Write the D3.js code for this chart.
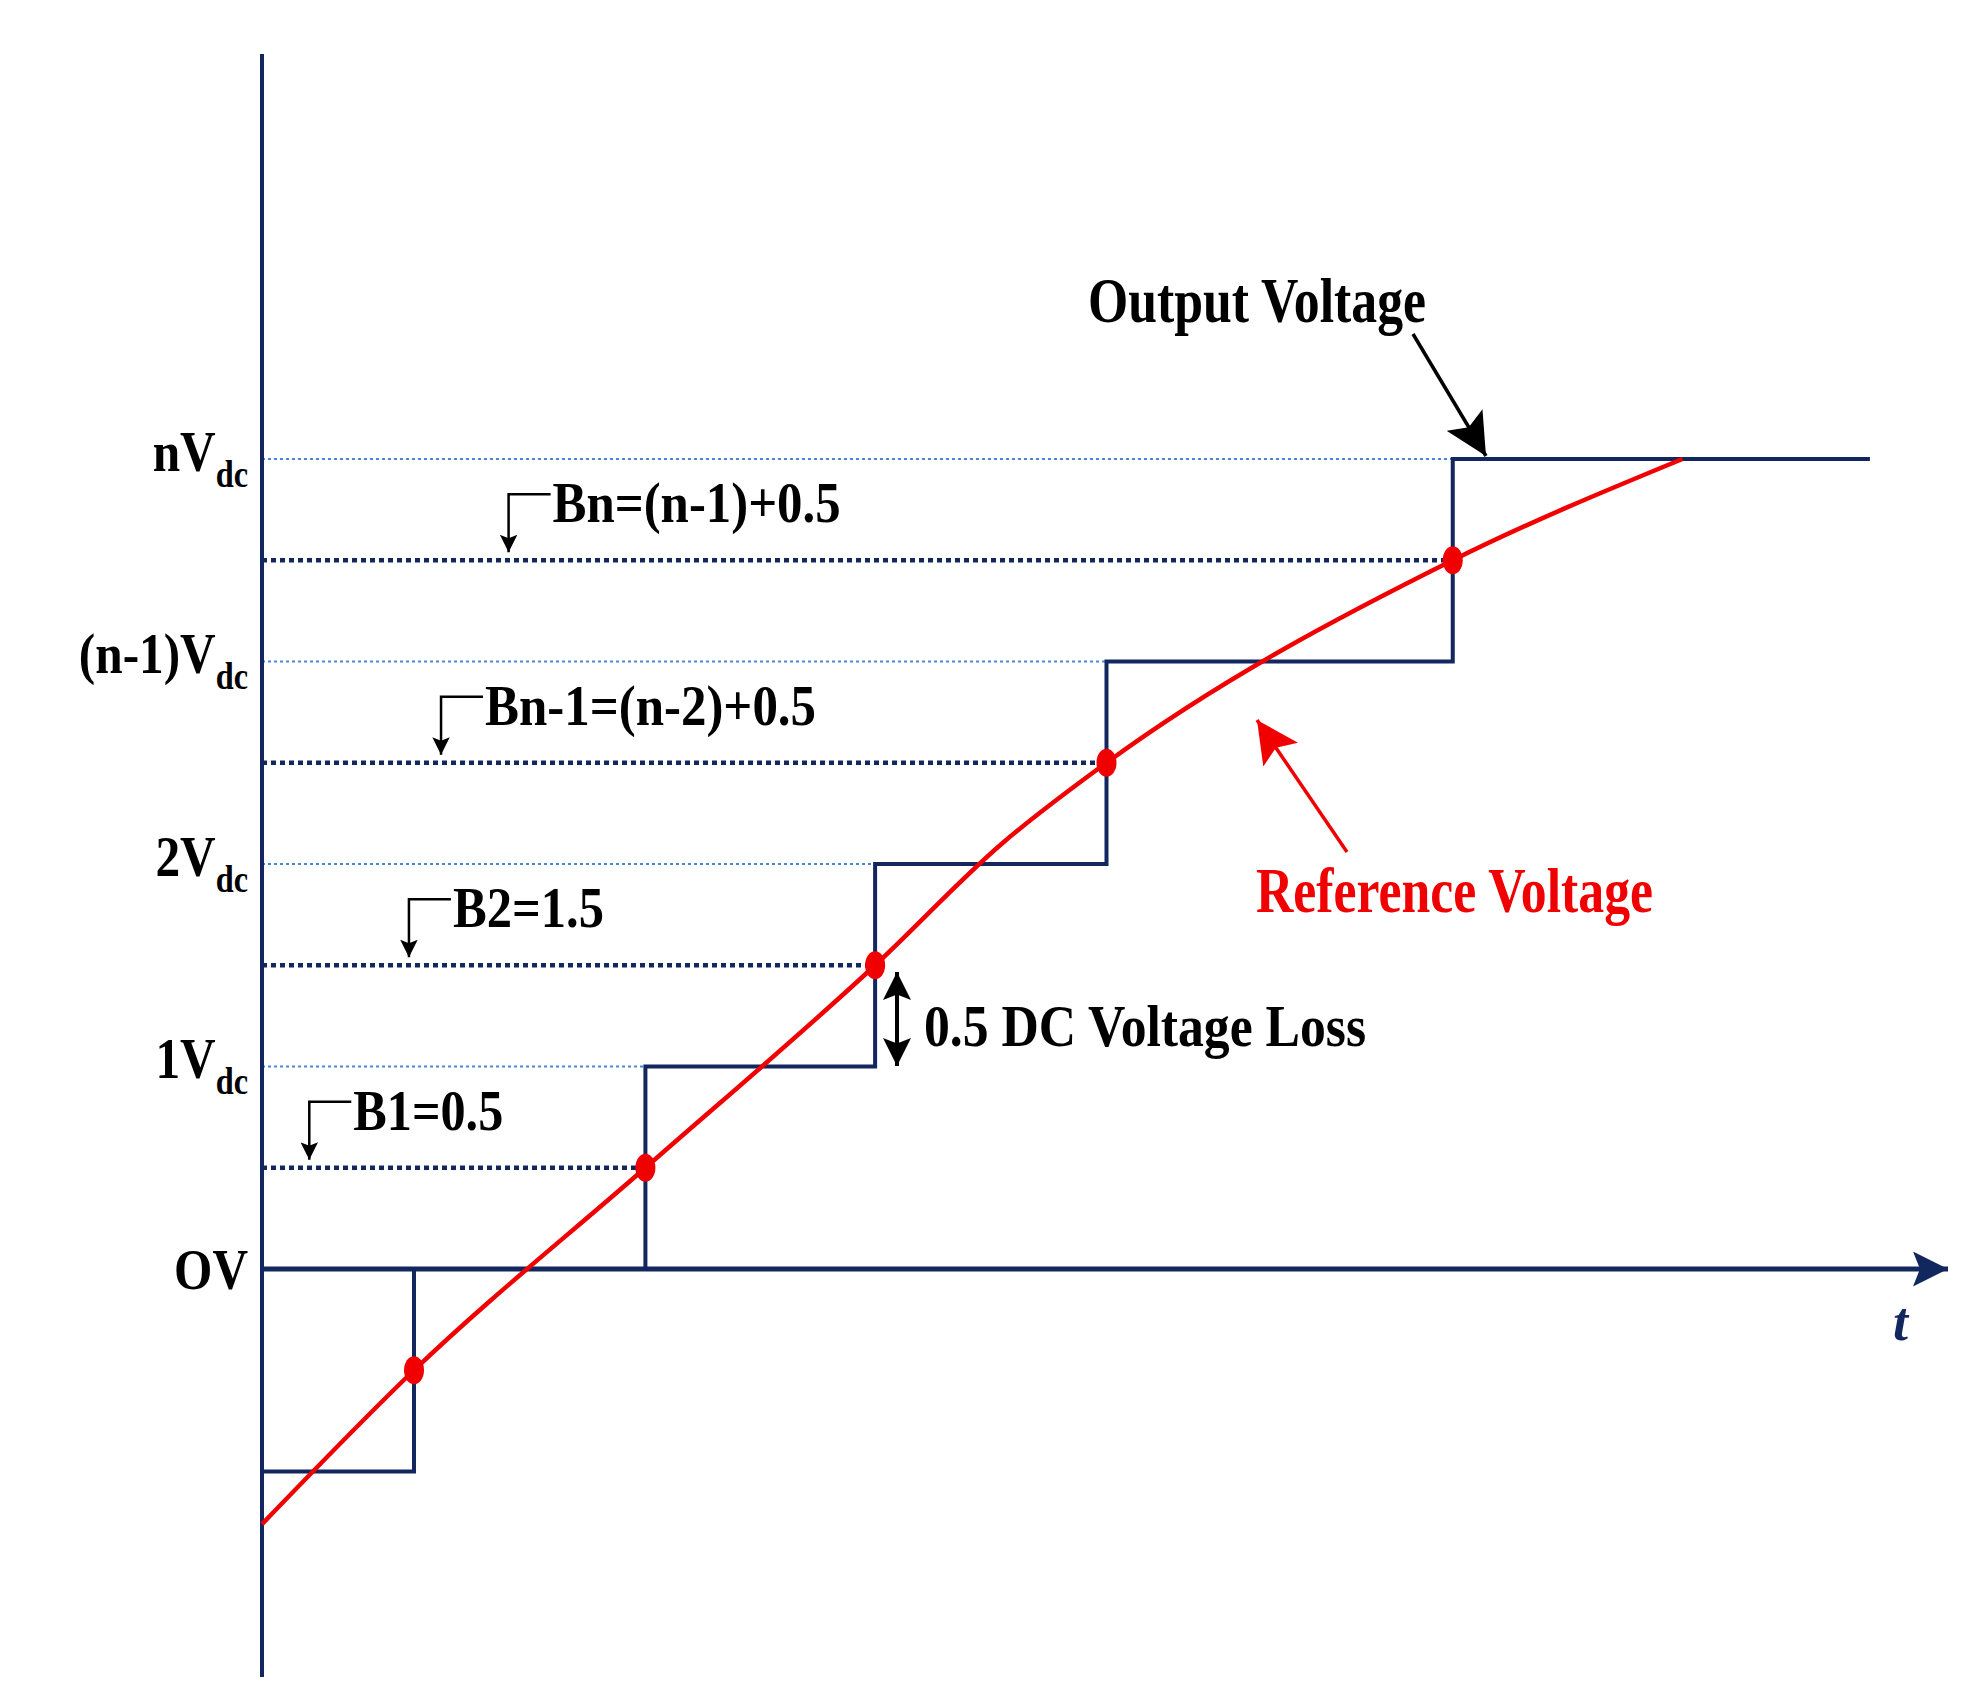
<!DOCTYPE html>
<html><head><meta charset="utf-8">
<script src="https://cdn.jsdelivr.net/npm/d3@7"></script>
<style>body{margin:0;background:#fff}text{font-family:"Liberation Serif","DejaVu Serif",serif;font-weight:bold}</style>
</head><body><div id="chart"></div>
<script>
let chart_width = 1984, chart_height = 1696;
let navy = "#12275e", red = "#f00000";

// voltage levels (in Vdc units) and their labels
let levels = [0, 1, 2, 3, 4];
let level_labels = [["OV", ""], ["1V", "dc"], ["2V", "dc"], ["(n-1)V", "dc"], ["nV", "dc"]];
// switching thresholds
let bands = [0.5, 1.5, 2.5, 3.5];
let band_labels = ["B1=0.5", "B2=1.5", "Bn-1=(n-2)+0.5", "Bn=(n-1)+0.5"];
let band_label_t = [2.8, 8.7, 10.6, 14.6];
let band_label_w = [150, 151, 331, 288];
// step output: level holds from step_t[i] to step_t[i+1]
let step_t = [0, 9.0, 22.7, 36.3, 50.0, 70.5, 95.2];
let step_v = [-1, 0, 1, 2, 3, 4, 4];
// reference voltage curve: [time, level]
let ref_t = [0, 9.0, 22.7, 36.3, 43.8, 50.0, 70.5, 84.1];
let ref_v = [-1.26, -0.5, 0.5, 1.5, 2.1, 2.5, 3.5, 4];
// crossing points (dots)
let dot_t = [9.0, 22.7, 36.3, 50.0, 70.5];
let dot_v = [-0.5, 0.5, 1.5, 2.5, 3.5];

let x = d3.scaleLinear().domain([0, 100]).range([262, 1951]);
let y = d3.scaleLinear().domain([0, 4]).range([1269, 459]);

let svg = d3.select("#chart").append("svg").attr("width", chart_width).attr("height", chart_height);
let defs = svg.append("defs");
function marker(id, col, size) {
  defs.append("marker").attr("id", id).attr("viewBox", "0 0 10 10").attr("refX", 10).attr("refY", 5)
    .attr("markerWidth", size).attr("markerHeight", size).attr("orient", "auto-start-reverse").attr("markerUnits", "strokeWidth")
    .append("path").attr("d", "M0,0 L10,5 L0,10 L2,5 Z").attr("fill", col);
}
marker("ab", "#000", 7); marker("abig", "#000", 12); marker("ar", red, 12); marker("an", navy, 7);

// thin level guides
levels.slice(1).forEach(function (v, i) {
  let tEnd = step_t[i + 2];
  svg.append("line").attr("x1", x(0)).attr("x2", x(tEnd)).attr("y1", y(v)).attr("y2", y(v))
    .attr("stroke", "#4a86d8").attr("stroke-width", 2).attr("stroke-dasharray", "3,3");
});
// threshold lines
bands.forEach(function (v, i) {
  svg.append("line").attr("x1", x(0)).attr("x2", x(dot_t[i + 1])).attr("y1", y(v)).attr("y2", y(v))
    .attr("stroke", navy).attr("stroke-width", 4.5).attr("stroke-dasharray", "5,4");
  let bx = x(band_label_t[i]);
  svg.append("path").attr("d", "M" + (bx + 42) + "," + (y(v) - 66) + " H" + bx + " V" + (y(v) - 8))
    .attr("fill", "none").attr("stroke", "#000").attr("stroke-width", 2.5).attr("marker-end", "url(#ab)");
  svg.append("text").attr("x", bx + 44).attr("y", y(v) - 38).attr("font-size", 56)
    .attr("textLength", band_label_w[i]).attr("lengthAdjust", "spacingAndGlyphs").text(band_labels[i]);
});

// axes
svg.append("line").attr("x1", x(0)).attr("x2", x(0)).attr("y1", 54).attr("y2", 1677).attr("stroke", navy).attr("stroke-width", 4);
svg.append("line").attr("x1", x(0)).attr("x2", 1948).attr("y1", y(0)).attr("y2", y(0)).attr("stroke", navy).attr("stroke-width", 5).attr("marker-end", "url(#an)");
svg.append("text").attr("x", 1893).attr("y", 1340).attr("font-size", 54).attr("font-style", "italic").attr("font-weight", "normal").attr("fill", navy).text("t");

// level labels
levels.forEach(function (v, i) {
  let t = svg.append("text").attr("x", 248).attr("y", y(v) + (i == 0 ? 20 : 12)).attr("text-anchor", "end").attr("font-size", 58)
    .attr("transform", "translate(248," + y(v) + ") scale(0.85,1) translate(-248," + (-y(v)) + ")");
  t.append("tspan").text(level_labels[i][0]);
  if (level_labels[i][1]) t.append("tspan").attr("font-size", 38).attr("dy", 16).text(level_labels[i][1]);
});

// output staircase
let step_pts = step_t.map(function (t, i) { return [t, step_v[i]]; });
svg.append("path").datum(step_pts).attr("fill", "none").attr("stroke", navy).attr("stroke-width", 4)
  .attr("d", d3.line().x(function (d) { return x(d[0]); }).y(function (d) { return y(d[1]); }).curve(d3.curveStepAfter));

// reference voltage
let ref_pts = ref_t.map(function (t, i) { return [t, ref_v[i]]; });
svg.append("path").datum(ref_pts).attr("fill", "none").attr("stroke", red).attr("stroke-width", 4.5)
  .attr("d", d3.line().x(function (d) { return x(d[0]); }).y(function (d) { return y(d[1]); }).curve(d3.curveMonotoneX));
svg.selectAll("ellipse.dot").data(dot_t).enter().append("ellipse").attr("class", "dot")
  .attr("cx", function (d) { return x(d); }).attr("cy", function (d, i) { return y(dot_v[i]); })
  .attr("rx", 10).attr("ry", 14).attr("fill", red);

// annotations
svg.append("text").attr("x", 1088).attr("y", 322).attr("font-size", 64).attr("textLength", 338).attr("lengthAdjust", "spacingAndGlyphs").text("Output Voltage");
svg.append("line").attr("x1", 1413).attr("y1", 334).attr("x2", 1486).attr("y2", 456).attr("stroke", "#000").attr("stroke-width", 3.5).attr("marker-end", "url(#abig)");
svg.append("text").attr("x", 1256).attr("y", 912).attr("font-size", 64).attr("fill", red).attr("textLength", 397).attr("lengthAdjust", "spacingAndGlyphs").text("Reference Voltage");
svg.append("line").attr("x1", 1347).attr("y1", 852).attr("x2", 1257).attr("y2", 720).attr("stroke", red).attr("stroke-width", 3.5).attr("marker-end", "url(#ar)");
svg.append("line").attr("x1", 897).attr("y1", 972).attr("x2", 897).attr("y2", 1066).attr("stroke", "#000").attr("stroke-width", 4)
  .attr("marker-start", "url(#ab)").attr("marker-end", "url(#ab)");
svg.append("text").attr("x", 924).attr("y", 1046).attr("font-size", 60).attr("textLength", 442).attr("lengthAdjust", "spacingAndGlyphs").text("0.5 DC Voltage Loss");
</script></body></html>
